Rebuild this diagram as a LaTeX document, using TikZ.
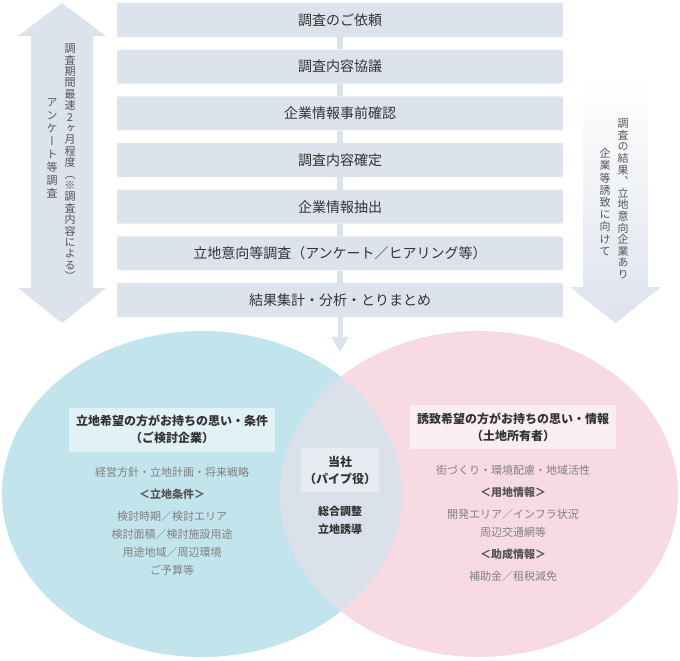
\documentclass[tikz,border=0pt]{standalone}
\usepackage{fontspec}
\setmainfont{Noto Sans CJK JP}
\newfontfamily\vjp[RawFeature=+vert]{Noto Sans CJK JP}
\usetikzlibrary{positioning, arrows.meta}
\definecolor{flowgray}{HTML}{DDE3EC}
\definecolor{leftcirc}{HTML}{C2E4EC}
\definecolor{rightcirc}{HTML}{F8DAE3}
\definecolor{lenscirc}{HTML}{DBE1EA}
\definecolor{lefttitle}{HTML}{E1F2F7}
\definecolor{righttitle}{HTML}{FAEEF1}
\definecolor{pipetitle}{HTML}{E7ECF2}
\definecolor{textdark}{HTML}{333333}
\definecolor{textmid}{HTML}{555555}
\definecolor{textgray}{HTML}{808080}
% stacked characters for vertical text
\newcommand{\vcolend}{}
\newcommand{\vcol}[2]{\vbox{\offinterlineskip\def\vcolpitch{#1}\vcolloop#2\vcolend}}
\def\vcolloop#1{\ifx#1\vcolend\else\hbox to 1em{\vrule height .86em depth \dimexpr\vcolpitch-.86em\relax width 0pt\hss#1\hss}\expandafter\vcolloop\fi}

\begin{document}
\begin{tikzpicture}[
		x=1pt, y=-1pt,
		stepbox/.style={fill=flowgray, rounded corners=2pt, minimum width=446pt, minimum height=34pt, inner sep=0pt, font=\fontsize{14}{16}\selectfont, text=textdark},
		link/.style={draw=flowgray, line width=6pt},
		titlebox/.style={inner sep=0pt, minimum width=206pt, minimum height=44pt, align=center, font=\fontsize{12}{17}\selectfont\bfseries, text=textdark},
		items/.style={inner sep=0pt, anchor=north, align=center, font=\fontsize{11}{18}\selectfont, text=textgray},
		vcolumn/.style={inner sep=0pt, anchor=north, font=\vjp\fontsize{11}{11}\selectfont, text=textmid},
	]
	\useasboundingbox (0,0) rectangle (680,661);

	% venn
	\fill[leftcirc] (202,494) ellipse [x radius=200, y radius=163];
	\fill[rightcirc] (479,494) ellipse [x radius=199, y radius=163];
	\begin{scope}
		\clip (202,494) ellipse [x radius=200, y radius=163];
		\fill[lenscirc] (479,494) ellipse [x radius=199, y radius=163];
	\end{scope}

	% side arrows
	\fill[flowgray] (62,3) -- (106,36) -- (93,36) -- (93,288) -- (106,288) -- (62,323)
		-- (18,288) -- (31,288) -- (31,36) -- (18,36) -- cycle;
	\shade[top color=white, bottom color=flowgray] (583,80) -- (648,80) -- (648,287) -- (661,287)
		-- (615.5,323) -- (570,287) -- (583,287) -- cycle;
	\node[vcolumn] (spanmain) at (70,43) {\vcol{11.4pt}{調査期間最速2ヶ月程度（※調査内容による）}};
	\node[vcolumn] (spansub) at (52,97) {\vcol{13pt}{アンケート等調査}};
	\node[vcolumn] (resultmain) at (623,118) {\vcol{11.6pt}{調査の結果、立地意向企業あり}};
	\node[vcolumn] (resultsub) at (605,148) {\vcol{12.2pt}{企業等誘致に向けて}};

	% steps
	\node[stepbox] (request) at (340,20) {調査のご依頼};
	\node[stepbox] (discuss) at (340,66.7) {調査内容協議};
	\node[stepbox] (precheck) at (340,113.3) {企業情報事前確認};
	\node[stepbox] (confirm) at (340,160) {調査内容確定};
	\node[stepbox] (extract) at (340,206.7) {企業情報抽出};
	\node[stepbox] (survey) at (340,253.3) {立地意向等調査（アンケート／ヒアリング等）};
	\node[stepbox] (summary) at (340,300) {結果集計・分析・とりまとめ};
	\coordinate (venntop) at (340,352);

	\draw[link] (request) -- (discuss);
	\draw[link] (discuss) -- (precheck);
	\draw[link] (precheck) -- (confirm);
	\draw[link] (confirm) -- (extract);
	\draw[link] (extract) -- (survey);
	\draw[link] (survey) -- (summary);
	\draw[link, line width=5pt, -{Triangle[width=17pt, length=15pt]}] (summary) -- (venntop);

	% circle texts
	\node[titlebox, fill=lefttitle] (company) at (172,429.5) {立地希望の方がお持ちの思い・条件\\（ご検討企業）};
	\node[items, below=15pt of company] (companyitems) {経営方針・立地計画・将来戦略\\[4pt]
		{\color{textmid}\bfseries ＜立地条件＞}\\[4pt]
		検討時期／検討エリア\\
		検討面積／検討施設用途\\
		用途地域／周辺環境\\
		ご予算等};

	\node[titlebox, fill=righttitle] (owner) at (513,427) {誘致希望の方がお持ちの思い・情報\\（土地所有者）};
	\node[items, below=16pt of owner] (owneritems) {街づくり・環境配慮・地域活性\\[4pt]
		{\color{textmid}\bfseries ＜用地情報＞}\\[4pt]
		開発エリア／インフラ状況\\
		周辺交通網等\\[4pt]
		{\color{textmid}\bfseries ＜助成情報＞}\\[4pt]
		補助金／租税減免};

	\node[titlebox, fill=pipetitle, minimum width=78pt] (pipe) at (340,470) {当社\\（パイプ役）};
	\node[items, below=14pt of pipe, font=\fontsize{11}{18}\selectfont\bfseries, text=textdark] (pipework) {総合調整\\立地誘導};
\end{tikzpicture}
\end{document}
